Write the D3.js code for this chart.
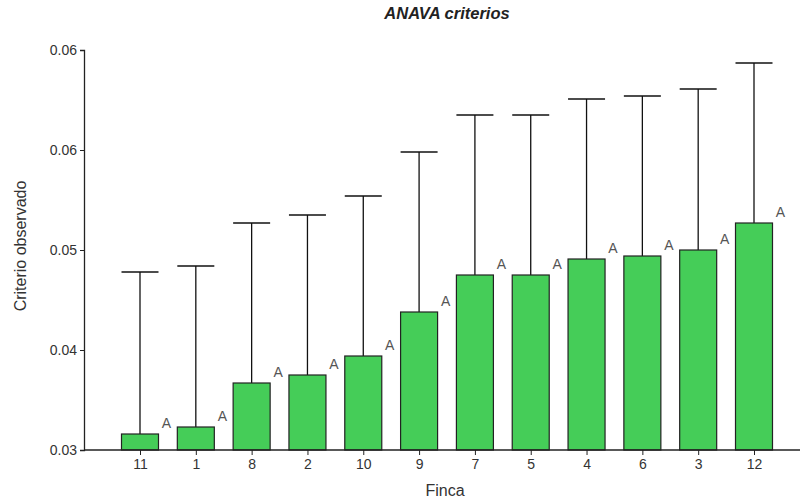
<!DOCTYPE html>
<html>
<head>
<meta charset="utf-8">
<script src="https://cdn.jsdelivr.net/npm/d3@7"></script>
<style>
  body { margin: 0; background: #fff; }
  text { font-family: "Liberation Sans", Arial, sans-serif; }
</style>
</head>
<body>
<svg></svg>
<script>
// fincas, ordered as on the chart
var fincas = ["11", "1", "8", "2", "10", "9", "7", "5", "4", "6", "3", "12"];
var medias = [0.0316, 0.0323, 0.0367, 0.0375, 0.0394, 0.0438, 0.0475, 0.0475, 0.0491, 0.0494, 0.0500, 0.0527];
var limiteSup = [0.0478, 0.0484, 0.0527, 0.0535, 0.0554, 0.0598, 0.0635, 0.0635, 0.0651, 0.0654, 0.0661, 0.0687];
var letras = ["A", "A", "A", "A", "A", "A", "A", "A", "A", "A", "A", "A"];
var yTicks = [0.03, 0.04, 0.05, 0.06, 0.07];
var yTickLabels = ["0.03", "0.04", "0.05", "0.06", "0.06"];

var svg = d3.select("svg")
    .attr("width", 801)
    .attr("height", 502);

var x = d3.scalePoint()
    .domain(fincas)
    .range([140, 754]);

var y = d3.scaleLinear()
    .domain([0.03, 0.07])
    .range([450, 50]);

var barW = 37;

var bars = svg.append("g");

// error bars go first, the bar covers the lower part
bars.selectAll("line.err")
    .data(fincas)
    .enter()
    .append("line")
    .attr("class", "err")
    .attr("x1", function (d) { return x(d); })
    .attr("x2", function (d) { return x(d); })
    .attr("y1", function (d, i) { return y(medias[i]); })
    .attr("y2", function (d, i) { return y(limiteSup[i]); })
    .attr("stroke", "#111")
    .attr("stroke-width", 1.3);

bars.selectAll("line.cap")
    .data(fincas)
    .enter()
    .append("line")
    .attr("class", "cap")
    .attr("x1", function (d) { return x(d) - barW / 2; })
    .attr("x2", function (d) { return x(d) + barW / 2; })
    .attr("y1", function (d, i) { return y(limiteSup[i]); })
    .attr("y2", function (d, i) { return y(limiteSup[i]); })
    .attr("stroke", "#111")
    .attr("stroke-width", 1.3);

bars.selectAll("rect")
    .data(fincas)
    .enter()
    .append("rect")
    .attr("x", function (d) { return x(d) - barW / 2; })
    .attr("y", function (d, i) { return y(medias[i]); })
    .attr("width", barW)
    .attr("height", function (d, i) { return y(0.03) - y(medias[i]); })
    .style("fill", "#45cd58")
    .style("stroke", "#222")
    .style("stroke-width", 1.2);

bars.selectAll("text")
    .data(fincas)
    .enter()
    .append("text")
    .attr("x", function (d) { return x(d) + barW / 2 + 8; })
    .attr("y", function (d, i) { return y(medias[i]) - 6; })
    .attr("text-anchor", "middle")
    .style("font-size", "14px")
    .style("fill", "#555")
    .text(function (d, i) { return letras[i]; });

// axes
var yAxis = d3.axisLeft(y)
    .tickValues(yTicks)
    .tickSize(4)
    .tickPadding(3)
    .tickFormat(function (d, i) { return yTickLabels[i]; });

var gy = svg.append("g")
    .attr("transform", "translate(84,0)")
    .call(yAxis);

var xAxis = d3.axisBottom(x)
    .tickSize(5)
    .tickPadding(4);

var gx = svg.append("g")
    .attr("transform", "translate(0,450)")
    .call(xAxis);

gx.select(".domain").attr("d", "M84,0H800");

[gx, gy].forEach(function (g) {
    g.select(".domain").attr("stroke", "#222").attr("stroke-width", 1.3);
    g.selectAll(".tick line").attr("stroke", "#222");
    g.selectAll(".tick text")
        .style("font-size", "14px")
        .style("fill", "#333")
        .style("font-family", "'Liberation Sans', Arial, sans-serif");
});

svg.append("text")
    .attr("x", 447)
    .attr("y", 19)
    .attr("text-anchor", "middle")
    .style("font-size", "16.5px")
    .style("font-weight", "bold")
    .style("font-style", "italic")
    .style("fill", "#222")
    .text("ANAVA criterios");

svg.append("text")
    .attr("x", 445)
    .attr("y", 496)
    .attr("text-anchor", "middle")
    .style("font-size", "16px")
    .style("fill", "#333")
    .text("Finca");

svg.append("text")
    .attr("transform", "translate(26,246) rotate(-90)")
    .attr("text-anchor", "middle")
    .style("font-size", "16px")
    .style("fill", "#333")
    .text("Criterio observado");
</script>
</body>
</html>
